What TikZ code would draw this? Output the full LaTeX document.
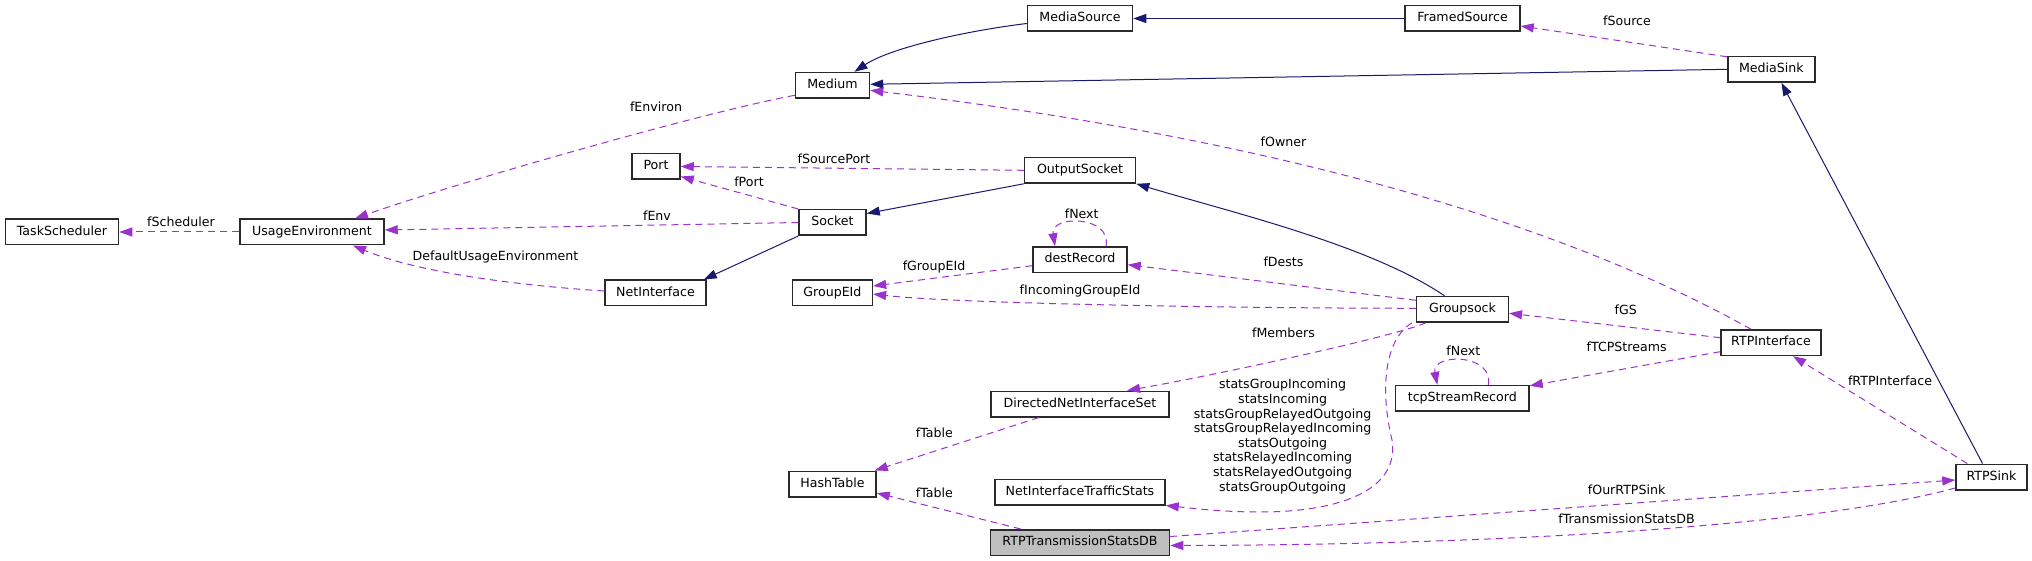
\documentclass[tikz,border=0pt]{standalone}
\usepackage{fontspec}
\setmainfont{DejaVu Sans}
\usetikzlibrary{arrows.meta,calc}
\definecolor{inh}{HTML}{191970}
\definecolor{usg}{HTML}{9A32CD}
\definecolor{bord}{HTML}{2A2A2A}
\tikzset{
  box/.style={draw=bord, line width=1.5pt, fill=white, minimum height=25.5pt, inner sep=0pt, font=\fontsize{12.6}{14.6}\selectfont, text height=9.5pt, text depth=3pt},
  lbl/.style={inner sep=0pt, font=\fontsize{12.6}{14.6}\selectfont, text height=9.5pt, text depth=3pt},
  inhedge/.style={draw=inh, line width=1pt, -{Triangle[length=13pt,width=9pt]}},
  usedge/.style={draw=usg, line width=1pt, dash pattern=on 7pt off 5pt, -{Triangle[length=13pt,width=9pt,fill=usg]}}
}
\begin{document}
\begin{tikzpicture}[x=1pt,y=-1pt]
\useasboundingbox (0,0) rectangle (2032,561);
% nodes
\node[box, minimum width=113pt] (ts) at (62,232) {TaskScheduler};
\node[box, minimum width=144pt] (ue) at (312,232) {UsageEnvironment};
\node[box, minimum width=48pt] (port) at (656,166.5) {Port};
\node[box, minimum width=101pt] (ni) at (655.5,293) {NetInterface};
\node[box, minimum width=105pt] (ms) at (1080,18.5) {MediaSource};
\node[box, minimum width=74pt] (med) at (832.5,85.3) {Medium};
\node[box, minimum width=111pt] (os) at (1080,170.3) {OutputSocket};
\node[box, minimum width=67pt] (sock) at (832.5,222.5) {Socket};
\node[box, minimum width=94pt] (dr) at (1080,259.7) {destRecord};
\node[box, minimum width=80pt] (ge) at (832.4,293) {GroupEId};
\node[box, minimum width=115pt] (fs) at (1462.5,18.5) {FramedSource};
\node[box, minimum width=87pt] (msink) at (1771.4,69.3) {MediaSink};
\node[box, minimum width=178pt] (dnis) at (1080,404) {DirectedNetInterfaceSet};
\node[box, minimum width=87pt] (ht) at (832.5,484) {HashTable};
\node[box, minimum width=170pt] (nits) at (1080,492) {NetInterfaceTrafficStats};
\node[box, minimum width=179pt, fill={rgb,255:red,191;green,191;blue,191}] (rtsdb) at (1080,542.5) {RTPTransmissionStatsDB};
\node[box, minimum width=91.6pt] (gs) at (1462.5,309.3) {Groupsock};
\node[box, minimum width=133.3pt] (tcp) at (1462.3,398.3) {tcpStreamRecord};
\node[box, minimum width=100pt] (rtpi) at (1771,342.7) {RTPInterface};
\node[box, minimum width=71pt] (rtps) at (1991.5,477) {RTPSink};

% inheritance edges
\draw[inhedge] ($(ms.west)+(0,5)$) .. controls (965,31) and (890,48) .. ($(med.north)+(22,0)$);
\draw[inhedge] (fs.west) -- (ms.east);
\draw[inhedge] (msink.west) -- ($(med.east)+(0,-1)$);
\draw[inhedge] ($(rtps.north)+(-9,0)$) -- ($(msink.south)+(10,0)$);
\draw[inhedge] (sock.south west) -- ($(ni.north east)+(-3,0)$);
\draw[inhedge] (os.south west) -- ($(sock.east)+(0,-9)$);
\draw[inhedge] ($(gs.north)+(-18,0)$) .. controls (1370,245) and (1230,212) .. (os.south east);

% usage edges
\draw[usedge] ($(msink.north west)+(0,1)$) -- ($(fs.east)+(0,7.5)$);
\draw[usedge] ($(rtpi.north)+(-20,0)$) .. controls (1548,216) and (1254,136) .. ($(med.east)+(0,5)$);
\draw[usedge] ($(med.west)+(0,10)$) .. controls (700,113) and (450,185) .. ($(ue.north)+(43,0)$);
\draw[usedge] (ue.west) -- (ts.east);
\draw[usedge] (sock.west) -- ($(ue.east)+(0,-2)$);
\draw[usedge] ($(ni.west)+(0,-2)$) .. controls (491,283.6) and (407.6,268.3) .. ($(ue.south)+(41,0)$);
\draw[usedge] (os.west) -- (port.east);
\draw[usedge] (sock.north west) -- ($(port.east)+(0,10)$);
\draw[usedge] ($(dr.north)+(26,0)$) .. controls (1112,215) and (1050,215) .. ($(dr.north)+(-25,0)$);
\draw[usedge] ($(dr.west)+(0,6)$) -- ($(ge.east)+(0,-7)$);
\draw[usedge] ($(gs.west)+(0,-9)$) -- ($(dr.east)+(0,5)$);
\draw[usedge] ($(gs.west)+(0,-1)$) .. controls (1200,308) and (950,303) .. ($(ge.east)+(0,1)$);
\draw[usedge] ($(gs.south west)+(10,0)$) .. controls (1390,338) and (1200,378) .. ($(dnis.north)+(47,0)$);
\draw[usedge] ($(gs.south west)+(-4,0)$) .. controls (1384,340) and (1380,390) .. (1392,440) .. controls (1400,490) and (1340,512) .. (1260,512) .. controls (1220,512) and (1190,508) .. (nits.south east);
\draw[usedge] ($(dnis.south)+(-41,0)$) -- ($(ht.north east)+(-2,0)$);
\draw[usedge] ($(rtsdb.north west)+(31,0)$) -- ($(ht.east)+(0,9)$);
\draw[usedge] ($(rtpi.west)+(0,-5)$) -- ($(gs.east)+(0,4)$);
\draw[usedge] ($(rtpi.west)+(0,9)$) -- ($(tcp.north east)+(0,1)$);
\draw[usedge] ($(tcp.north)+(26,0)$) .. controls (1494,353) and (1431,353) .. ($(tcp.north)+(-25,0)$);
\draw[usedge] ($(rtps.north west)+(12,0)$) -- ($(rtpi.south)+(22,0)$);
\draw[usedge] ($(rtsdb.east)+(0,-6)$) -- ($(rtps.west)+(0,3)$);
\draw[usedge] ($(rtps.west)+(0,11)$) .. controls (1805.6,528.8) and (1469,545) .. ($(rtsdb.east)+(0,3)$);

% labels
\node[lbl] (lfenviron) at (656,108) {fEnviron};
\node[lbl] (lfsched) at (181,223) {fScheduler};
\node[lbl] (lfenv) at (657,217) {fEnv};
\node[lbl] (ldue) at (495.5,257) {DefaultUsageEnvironment};
\node[lbl] (lfsp) at (834,160) {fSourcePort};
\node[lbl] (lfport) at (749,183) {fPort};
\node[lbl] (lfnexta) at (1081.7,215) {fNext};
\node[lbl] (lfgeid) at (934,267) {fGroupEId};
\node[lbl] (lfdests) at (1283.5,263) {fDests};
\node[lbl] (lfige) at (1080,291.5) {fIncomingGroupEId};
\node[lbl] (lfowner) at (1283.5,143) {fOwner};
\node[lbl] (lfsource) at (1627,22.3) {fSource};
\node[lbl] (lfmembers) at (1283.5,334.3) {fMembers};
\node[inner sep=0pt, align=center, font=\fontsize{12.6}{14.6}\selectfont] (lstats) at (1282.6,436.5) {statsGroupIncoming\\statsIncoming\\statsGroupRelayedOutgoing\\statsGroupRelayedIncoming\\statsOutgoing\\statsRelayedIncoming\\statsRelayedOutgoing\\statsGroupOutgoing};
\node[lbl] (lftablea) at (934.4,434) {fTable};
\node[lbl] (lftableb) at (934.4,494) {fTable};
\node[lbl] (lfgs) at (1625.8,311) {fGS};
\node[lbl] (lftcp) at (1626.6,348.3) {fTCPStreams};
\node[lbl] (lfnextb) at (1463.3,352.3) {fNext};
\node[lbl] (lfrtpi) at (1890,382.3) {fRTPInterface};
\node[lbl] (lfour) at (1626.6,491.3) {fOurRTPSink};
\node[lbl] (lfts) at (1626.6,520) {fTransmissionStatsDB};
\end{tikzpicture}
\end{document}
